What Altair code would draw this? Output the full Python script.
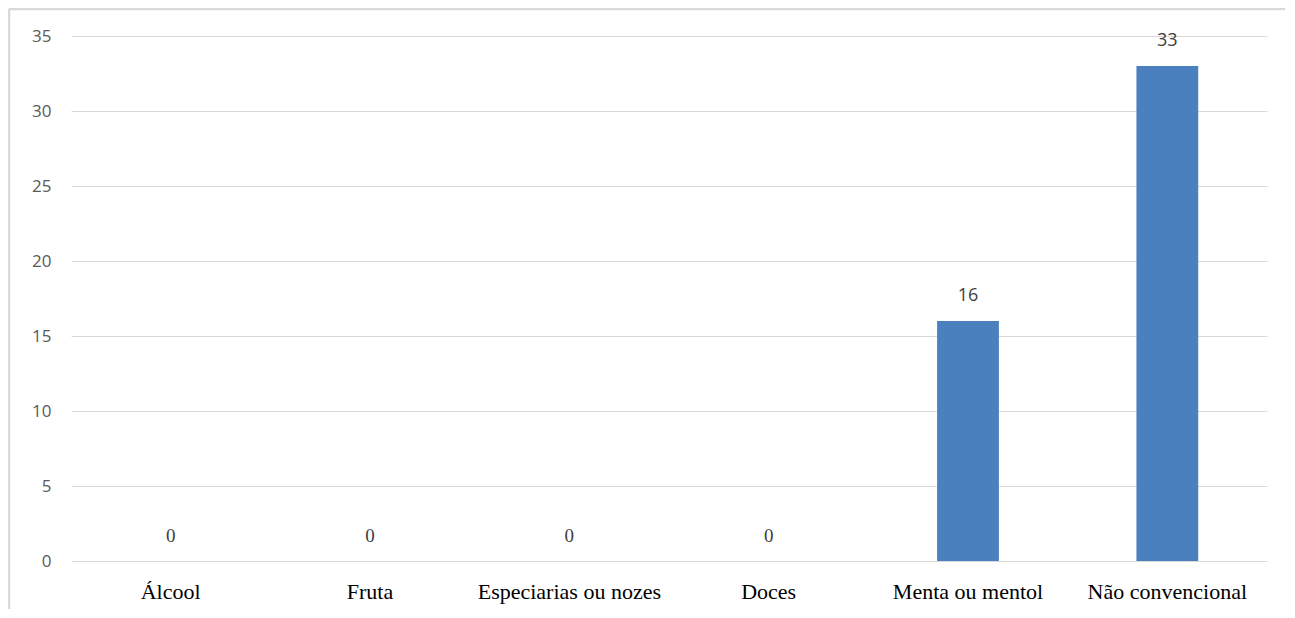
import altair as alt
import pandas as pd

categories = ["Álcool", "Fruta", "Especiarias ou nozes", "Doces", "Menta ou mentol", "Não convencional"]
values = [0, 0, 0, 0, 16, 33]

df = pd.DataFrame({"cat": categories, "val": values})

x = alt.X("cat:N", sort=categories, title=None,
          scale=alt.Scale(paddingInner=0.69, paddingOuter=0.345),
          axis=alt.Axis(labelAngle=0, labelFont="Liberation Serif", labelFontSize=22,
                        labelColor="#000000", labelPadding=20, labelLimit=400,
                        ticks=False, domain=False))
y = alt.Y("val:Q", title=None,
          scale=alt.Scale(domain=[0, 35], nice=False),
          axis=alt.Axis(values=[0, 5, 10, 15, 20, 25, 30, 35], labelFont="Open Sans",
                        labelFontSize=17, labelColor="#595959", labelPadding=20,
                        ticks=False, domain=False, gridColor="#d9d9d9", gridWidth=1.2))

base = alt.Chart(df)

bars = base.transform_filter("datum.val > 0").mark_bar(color="#4A80BE").encode(x=x, y=y)

lab_zero = base.transform_filter("datum.val == 0").mark_text(
    font="Liberation Serif", fontSize=19, color="#404040", dy=-25, baseline="middle"
).encode(x=alt.X("cat:N", sort=categories), y="val:Q", text="val:Q")

lab_pos = base.transform_filter("datum.val > 0").mark_text(
    font="Open Sans", fontSize=18, color="#404040", dy=-25, baseline="middle"
).encode(x=alt.X("cat:N", sort=categories), y="val:Q", text="val:Q")

frame = alt.Chart(pd.DataFrame({"a": [0]}))
top_edge = frame.mark_rule(stroke="#d9d9d9", strokeWidth=2.5, clip=False).encode(
    x=alt.value(-62), x2=alt.value(1230), y=alt.value(-27))
left_edge = frame.mark_rule(stroke="#d9d9d9", strokeWidth=2.5, clip=False).encode(
    x=alt.value(-62), y=alt.value(-27), y2=alt.value(600))

chart = alt.layer(top_edge, left_edge, bars, lab_zero, lab_pos).properties(
    width=1196, height=525,
    background="white",
    autosize=alt.AutoSizeParams(type="none"),
    padding={"left": 63, "top": 28, "right": 18, "bottom": 48},
).configure_view(stroke=None)

chart.save("out.html", embed_options={"renderer": "svg", "actions": False})
